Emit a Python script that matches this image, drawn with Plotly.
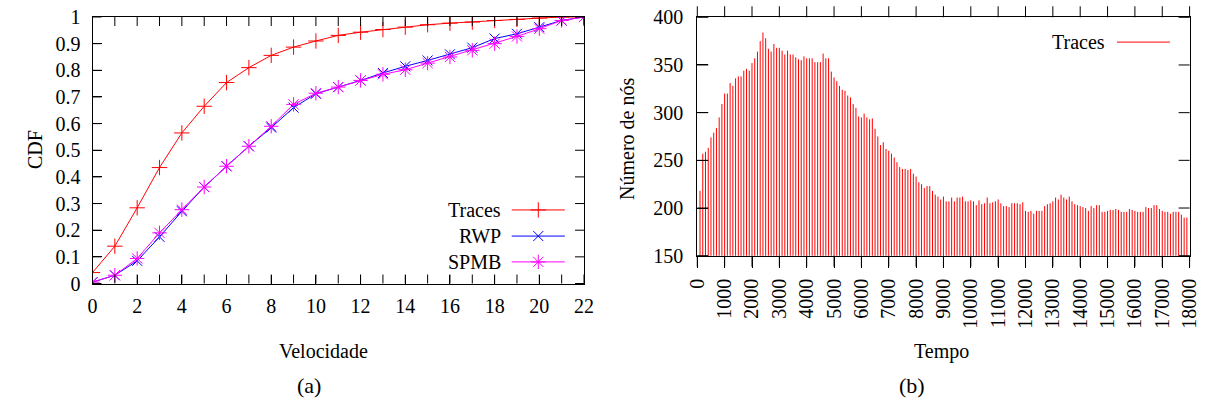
import plotly.graph_objects as go

# ---- data: panel (a) CDF of speed ----
velocidade = list(range(0, 23))
cdf_traces = [0.041, 0.14, 0.284, 0.435, 0.565, 0.665, 0.754, 0.81, 0.856, 0.887, 0.91, 0.931,
              0.943, 0.953, 0.962, 0.971, 0.977, 0.981, 0.987, 0.991, 0.996, 1.0, 1.0]
cdf_rwp = [0.005, 0.031, 0.085, 0.175, 0.271, 0.362, 0.44, 0.515, 0.585, 0.66, 0.712, 0.737,
           0.762, 0.79, 0.815, 0.837, 0.86, 0.885, 0.919, 0.937, 0.962, 0.987, 1.0]
cdf_spmb = [0.005, 0.031, 0.094, 0.19, 0.277, 0.362, 0.44, 0.515, 0.59, 0.672, 0.714, 0.737,
            0.762, 0.785, 0.802, 0.827, 0.85, 0.875, 0.9, 0.927, 0.956, 0.987, 1.0]

# ---- data: panel (b) number of nodes over time ----
tempo = list(range(100, 18000, 100))
nos = [218, 257, 259, 263, 274, 279, 284, 295, 309, 320, 320, 331, 328, 336, 338, 338, 344, 346, 344, 352,
       357, 364, 375, 384, 378, 367, 364, 372, 368, 368,
       365, 361, 365, 361, 361, 358, 356, 355, 359, 357, 357, 357, 353, 353, 353, 362, 357, 357, 343, 337,
       333, 328, 324, 323, 318, 316, 309, 305, 296, 295,
       299, 295, 293, 294, 283, 275, 266, 269, 262, 260, 257, 253, 248, 243, 241, 241, 240, 241, 236, 233,
       227, 225, 221, 223, 223, 218, 214, 212, 209, 212,
       207, 207, 211, 207, 211, 211, 212, 207, 207, 208, 207, 203, 208, 204, 205, 211, 205, 206, 207, 209,
       205, 202, 202, 201, 205, 205, 205, 204, 206, 197,
       196, 197, 194, 197, 197, 197, 202, 204, 205, 207, 211, 209, 214, 211, 209, 212, 207, 204, 203, 202,
       201, 200, 197, 202, 200, 203, 203, 196, 196, 197,
       198, 198, 199, 198, 196, 196, 196, 199, 198, 197, 196, 196, 196, 201, 200, 200, 203, 203, 199, 197,
       196, 196, 194, 196, 196, 196, 193, 190, 190]

# tick values
a_xticks = list(range(0, 23))                      # every unit (labels every 2)
a_yticks = [0, 0.1, 0.2, 0.3, 0.4, 0.5, 0.6, 0.7, 0.8, 0.9, 1]
b_xticks = list(range(0, 18001, 1000))
b_yticks = [150, 200, 250, 300, 350, 400]

FONT = "Liberation Serif"
RED, BLUE, MAG = "#ff0000", "#0000ff", "#ff00ff"
W, H = 1205, 407
XA_RANGE = [0, 22]
YA_RANGE = [0, 1]
XB_RANGE = [0, 18000]
YB_RANGE = [150, 400]

fig = go.Figure()

series = [("Traces", cdf_traces, RED, "cross-thin", 11),
          ("RWP", cdf_rwp, BLUE, "x-thin", 10),
          ("SPMB", cdf_spmb, MAG, "asterisk", 12)]
for name, vals, col, sym, sz in series:
    fig.add_trace(go.Scatter(x=velocidade, y=vals, mode="lines+markers", name=name,
                             line=dict(color=col, width=1),
                             marker=dict(symbol=sym, size=sz, color=col, line=dict(color=col, width=1)),
                             xaxis="x", yaxis="y", showlegend=False))

ix, iy = [], []
for t, v in zip(tempo, nos):
    ix += [t, t, None]
    iy += [0, v, None]
fig.add_trace(go.Scatter(x=ix, y=iy, mode="lines", line=dict(color=RED, width=1),
                         xaxis="x2", yaxis="y2", showlegend=False, hoverinfo="skip"))

# gnuplot-style legend for (a)
leg_y = [0.276, 0.178, 0.081]
LX0, LXM, LX1, LTX = 0.853, 0.907, 0.961, 0.835
for (name, vals, col, sym, sz), ly in zip(series, leg_y):
    fig.add_shape(type="line", xref="x domain", yref="y domain", x0=LX0, x1=LX1, y0=ly, y1=ly,
                  line=dict(color=col, width=1))
    mx = XA_RANGE[0] + LXM * (XA_RANGE[1] - XA_RANGE[0])
    my = YA_RANGE[0] + ly * (YA_RANGE[1] - YA_RANGE[0])
    fig.add_trace(go.Scatter(x=[mx], y=[my], mode="markers", cliponaxis=False,
                             marker=dict(symbol=sym, size=sz, color=col, line=dict(color=col, width=1)),
                             xaxis="x", yaxis="y", showlegend=False, hoverinfo="skip"))
    fig.add_annotation(x=LTX, y=ly, xref="x domain", yref="y domain", text=name, showarrow=False,
                       xanchor="right", yanchor="middle", font=dict(family=FONT, size=20, color="black"))

# legend for (b)
fig.add_shape(type="line", xref="x2 domain", yref="y2 domain", x0=0.8525, x1=0.96, y0=0.896, y1=0.896,
              line=dict(color=RED, width=1))
fig.add_annotation(x=0.832, y=0.896, xref="x2 domain", yref="y2 domain", text="Traces", showarrow=False,
                   xanchor="right", yanchor="middle", font=dict(family=FONT, size=20, color="black"))

dA_x = [92.5 / W, 584 / W]
dA_y = [(H - 283.5) / H, (H - 17) / H]
dB_x = [697.3 / W, 1189.6 / W]
dB_y = [(H - 255.7) / H, (H - 17.3) / H]


def to_paper(v, rng, dom):
    return dom[0] + (v - rng[0]) / (rng[1] - rng[0]) * (dom[1] - dom[0])


tick_line = dict(color="black", width=1)


def xticks(vals, rng, dom_x, dom_y, length, outside):
    L = length / H
    for v in vals:
        p = to_paper(v, rng, dom_x)
        if outside:
            spans = [(dom_y[0] - L, dom_y[0]), (dom_y[1], dom_y[1] + L)]
        else:
            spans = [(dom_y[0], dom_y[0] + L), (dom_y[1] - L, dom_y[1])]
        for a, b in spans:
            fig.add_shape(type="line", xref="paper", yref="paper", x0=p, x1=p, y0=a, y1=b,
                          line=tick_line, layer="above")


def yticks(vals, rng, dom_y, dom_x, length):
    L = length / W
    for v in vals:
        p = to_paper(v, rng, dom_y)
        for a, b in [(dom_x[0], dom_x[0] + L), (dom_x[1] - L, dom_x[1])]:
            fig.add_shape(type="line", xref="paper", yref="paper", x0=a, x1=b, y0=p, y1=p,
                          line=tick_line, layer="above")


xticks(a_xticks, XA_RANGE, dA_x, dA_y, 9, outside=False)
yticks(a_yticks, YA_RANGE, dA_y, dA_x, 9)
xticks(b_xticks, XB_RANGE, dB_x, dB_y, 11, outside=True)
yticks(b_yticks, YB_RANGE, dB_y, dB_x, 11)

tf = dict(family=FONT, size=20, color="black")
common = dict(showline=True, linecolor="black", linewidth=1, mirror=True, showgrid=False,
              zeroline=False, tickcolor="black", tickwidth=1, tickfont=tf, automargin=False)
fig.update_layout(
    template="none",
    width=W, height=H, margin=dict(l=0, r=0, t=0, b=0, pad=0, autoexpand=False),
    paper_bgcolor="white", plot_bgcolor="white",
    font=dict(family=FONT, size=20, color="black"),
    xaxis=dict(domain=dA_x, range=XA_RANGE, dtick=2, tick0=0, ticks="inside", ticklen=9,
               ticklabelstandoff=4, **common),
    yaxis=dict(domain=dA_y, range=YA_RANGE, dtick=0.1, tick0=0, ticks="inside", ticklen=9,
               ticklabelstandoff=7, **common),
    xaxis2=dict(domain=dB_x, range=XB_RANGE, tickvals=b_xticks, ticks="outside", ticklen=11,
                tickangle=-90, anchor="y2", tickformat="d", ticklabelstandoff=3, **common),
    yaxis2=dict(domain=dB_y, range=YB_RANGE, tickvals=b_yticks, ticks="inside", ticklen=11,
                anchor="x2", ticklabelstandoff=9, **common),
)


def txt(x, y, s, angle=0, size=20):
    fig.add_annotation(x=x / W, y=1 - y / H, xref="paper", yref="paper", text=s, showarrow=False,
                       textangle=angle, xanchor="center", yanchor="middle",
                       font=dict(family=FONT, size=size, color="black"))


txt(35, 150, "CDF", -90)
txt(323, 351, "Velocidade")
txt(309, 385, "(a)", size=22)
txt(627, 139, "Número de nós", -90)
txt(941, 351, "Tempo")
txt(912, 385, "(b)", size=22)

fig.write_html("out.html")
